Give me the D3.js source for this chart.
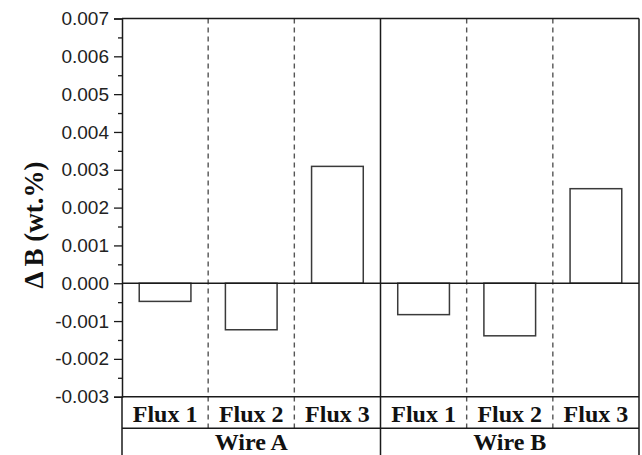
<!DOCTYPE html>
<html>
<head>
<meta charset="utf-8">
<script src="https://cdn.jsdelivr.net/npm/d3@7"></script>
<style>
  html, body { margin: 0; padding: 0; background: #fff; }
  svg { display: block; }
</style>
</head>
<body>
<svg id="chart" width="642" height="455"></svg>
<script>
// ---- data ----
const wires = ["Wire A", "Wire B"];
const fluxes = ["Flux 1", "Flux 2", "Flux 3"];
const wireAValues = [-0.00048, -0.00123, 0.00309];
const wireBValues = [-0.00083, -0.00139, 0.00250];
const yTickValues = [-0.003, -0.002, -0.001, 0.000, 0.001, 0.002, 0.003, 0.004, 0.005, 0.006, 0.007];
const yMinorValues = [-0.0025, -0.0015, -0.0005, 0.0005, 0.0015, 0.0025, 0.0035, 0.0045, 0.0055, 0.0065];
const yLabel = "\u0394 B (wt.%)";

// ---- layout ----
const plotLeft = 122, plotRight = 639, plotTop = 18.5, plotBottom = 396.7;
const row1 = 428.3, tableBottom = 470;

const svg = d3.select("#chart");

const rows = [];
wires.forEach((w, wi) => {
  const vals = wi === 0 ? wireAValues : wireBValues;
  fluxes.forEach((f, fi) => rows.push({ key: w + "|" + f, wire: w, flux: f, value: vals[fi] }));
});

const x = d3.scaleBand().domain(rows.map(d => d.key)).range([plotLeft, plotRight]).paddingInner(0).paddingOuter(0);
const xWire = d3.scaleBand().domain(wires).range([plotLeft, plotRight]);
const y = d3.scaleLinear().domain([-0.003, 0.007]).range([plotBottom, plotTop]);

const ink = "#1a1a1a";

// dashed separators between fluxes (within a wire)
const dashedBounds = rows.filter((d, i) => i % 3 !== 0).map(d => x(d.key));
svg.selectAll("line.dash").data(dashedBounds).enter().append("line")
  .attr("x1", d => d).attr("x2", d => d)
  .attr("y1", plotTop).attr("y2", row1)
  .attr("stroke", "#555").attr("stroke-width", 1.4)
  .attr("stroke-dasharray", "5,4");

// solid separator between wires
const wireBounds = wires.slice(1).map(w => xWire(w));
svg.selectAll("line.wsep").data(wireBounds).enter().append("line")
  .attr("x1", d => d).attr("x2", d => d)
  .attr("y1", plotTop).attr("y2", tableBottom)
  .attr("stroke", ink).attr("stroke-width", 1.5);

// bars
const bw = x.bandwidth() * 0.6;
svg.selectAll("rect.bar").data(rows).enter().append("rect")
  .attr("x", d => x(d.key) + (x.bandwidth() - bw) / 2)
  .attr("width", bw)
  .attr("y", d => y(Math.max(0, d.value)))
  .attr("height", d => Math.abs(y(d.value) - y(0)))
  .attr("fill", "#fff").attr("stroke", "#3a3a3a").attr("stroke-width", 1.5);

// zero line
svg.append("line").attr("x1", plotLeft).attr("x2", plotRight)
  .attr("y1", y(0)).attr("y2", y(0))
  .attr("stroke", ink).attr("stroke-width", 1.5);

// frame
svg.append("line").attr("x1", plotLeft).attr("x2", plotRight).attr("y1", plotTop).attr("y2", plotTop)
  .attr("stroke", ink).attr("stroke-width", 1.5);
svg.append("line").attr("x1", plotRight).attr("x2", plotRight).attr("y1", plotTop).attr("y2", tableBottom)
  .attr("stroke", ink).attr("stroke-width", 1.5);
svg.append("line").attr("x1", plotLeft).attr("x2", plotRight).attr("y1", plotBottom).attr("y2", plotBottom)
  .attr("stroke", ink).attr("stroke-width", 1.5);
svg.append("line").attr("x1", plotLeft).attr("x2", plotRight).attr("y1", row1).attr("y2", row1)
  .attr("stroke", ink).attr("stroke-width", 1.5);
svg.append("line").attr("x1", plotLeft).attr("x2", plotLeft).attr("y1", plotBottom).attr("y2", tableBottom)
  .attr("stroke", ink).attr("stroke-width", 1.5);

// y axis
const yAxis = d3.axisLeft(y).tickValues(yTickValues).tickSize(8).tickPadding(5)
  .tickFormat(v => v.toFixed(3));
const gy = svg.append("g").attr("transform", `translate(${plotLeft},0)`).call(yAxis);
gy.select(".domain").attr("stroke", ink).attr("stroke-width", 1.5);
gy.selectAll(".tick line").attr("stroke", ink).attr("stroke-width", 1.3);
gy.selectAll(".tick text").attr("font-family", "'Liberation Sans', Arial, sans-serif")
  .attr("font-size", 19).attr("fill", "#222");

const yMinor = d3.axisLeft(y).tickValues(yMinorValues).tickSize(4).tickFormat("");
const gm = svg.append("g").attr("transform", `translate(${plotLeft},0)`).call(yMinor);
gm.select(".domain").remove();
gm.selectAll(".tick line").attr("stroke", ink).attr("stroke-width", 1.3);

// y label
svg.append("text")
  .attr("transform", `translate(43,${(158 + 292) / 2}) rotate(-90)`)
  .attr("text-anchor", "middle")
  .attr("font-family", "'Liberation Serif', 'Times New Roman', serif")
  .attr("font-weight", "bold").attr("font-size", 27)
  .attr("fill", "#111")
  .text(yLabel);

// table row 1: flux labels
svg.selectAll("text.flux").data(rows).enter().append("text")
  .attr("x", d => x(d.key) + x.bandwidth() / 2)
  .attr("y", 422)
  .attr("text-anchor", "middle")
  .attr("font-family", "'Liberation Serif', 'Times New Roman', serif")
  .attr("font-weight", "bold").attr("font-size", 24)
  .attr("fill", "#111")
  .text(d => d.flux);

// table row 2: wire labels
svg.selectAll("text.wire").data(wires).enter().append("text")
  .attr("x", d => xWire(d) + xWire.bandwidth() / 2)
  .attr("y", 450)
  .attr("text-anchor", "middle")
  .attr("font-family", "'Liberation Serif', 'Times New Roman', serif")
  .attr("font-weight", "bold").attr("font-size", 24)
  .attr("fill", "#111")
  .text(d => d);
</script>
</body>
</html>
